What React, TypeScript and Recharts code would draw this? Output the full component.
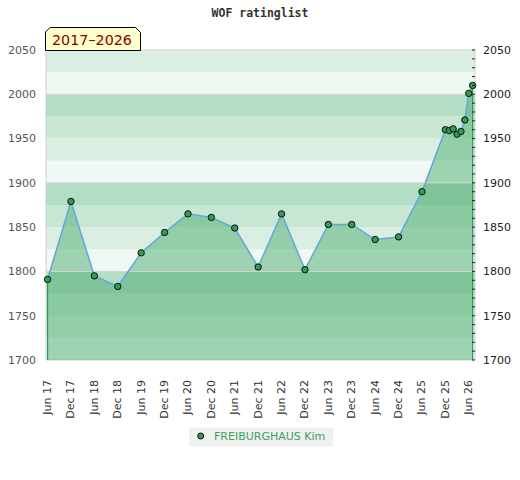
import React from 'react'
import {
  ComposedChart,
  Area,
  Line,
  XAxis,
  YAxis,
  ReferenceArea,
  ReferenceLine,
} from 'recharts'

// rating lists (YYYY-MM) and the player's rating on each
const listDates = [
  '2017-06', '2017-12', '2018-06', '2018-12', '2019-06', '2019-12',
  '2020-06', '2020-12', '2021-06', '2021-12', '2022-06', '2022-12',
  '2023-06', '2023-12', '2024-06', '2024-12', '2025-06', '2025-12',
  '2026-01', '2026-02', '2026-03', '2026-04', '2026-05', '2026-06', '2026-07',
]
const ratings = [
  1791, 1879, 1795, 1783, 1821, 1844,
  1865, 1861, 1849, 1805, 1865, 1802,
  1853, 1853, 1836, 1839, 1890, 1960,
  1959, 1961, 1955, 1958, 1971, 2001, 2010,
]

const tickLabels = [
  'Jun 17', 'Dec 17', 'Jun 18', 'Dec 18', 'Jun 19', 'Dec 19', 'Jun 20',
  'Dec 20', 'Jun 21', 'Dec 21', 'Jun 22', 'Dec 22', 'Jun 23', 'Dec 23',
  'Jun 24', 'Dec 24', 'Jun 25', 'Dec 25', 'Jun 26',
]
const leftTicks = [1700, 1750, 1800, 1850, 1900, 1950, 2000, 2050]
const gridLines = [1800, 1900, 2000]

const playerName = 'FREIBURGHAUS Kim'
const chartTitle = 'WOF ratinglist'
const periodLabel = '2017–2026'

const MONTHS = ['Jan', 'Feb', 'Mar', 'Apr', 'May', 'Jun', 'Jul', 'Aug', 'Sep', 'Oct', 'Nov', 'Dec']

// months since Jun 2017
const monthIndex = (year: number, month: number) => (year - 2017) * 12 + (month - 6)

const data = listDates.map((d, i) => {
  const [y, m] = d.split('-').map(Number)
  return { m: monthIndex(y, m), rating: ratings[i] }
})

const tickMonths = tickLabels.map((l) => {
  const [mon, yy] = l.split(' ')
  return monthIndex(2000 + Number(yy), MONTHS.indexOf(mon) + 1)
})
const labelByMonth: Record<number, string> = {}
tickMonths.forEach((m, i) => (labelByMonth[m] = tickLabels[i]))

const Y_MIN = 1700
const Y_MAX = 2050

// background bands, 25 points each, repeating every 100
const bandColor = (low: number) => {
  const r = ((low % 100) + 100) % 100
  if (r === 0) return '#eff8f2'
  if (r === 25) return '#dbeee2'
  if (r === 50) return '#c8e6d4'
  return '#b3ddc4'
}
const bands: number[] = []
for (let v = Y_MIN; v < Y_MAX; v += 25) bands.push(v)

const rightTicks: number[] = []
for (let v = Y_MIN; v <= Y_MAX; v += 10) rightTicks.push(v)

const font = '"DejaVu Sans", sans-serif'

const XTick = ({ x, y, payload }: any) => (
  <text
    x={0}
    y={0}
    transform={`translate(${x},${y + 12}) rotate(-90)`}
    textAnchor="end"
    dominantBaseline="central"
    fontSize={11}
    fontFamily={font}
    fill="#333"
  >
    {labelByMonth[payload.value] ?? ''}
  </text>
)

const RightTick = ({ x, y, payload }: any) => (
  <g>
    <line x1={x - 3} x2={x} y1={y} y2={y} stroke="#222" strokeWidth={1} />
    {payload.value % 50 === 0 && (
      <text x={x + 8} y={y} dy="0.35em" fontSize={11} fontFamily={font} fill="#222">
        {payload.value}
      </text>
    )}
  </g>
)

export default function App() {
  const first = data[0]
  const last = data[data.length - 1]
  return (
    <div style={{ position: 'absolute', left: 0, top: 0, width: 520, height: 480, background: '#fff' }}>
      <ComposedChart
        width={520}
        height={480}
        data={data}
        margin={{ top: 50, right: 0, left: 0, bottom: 0 }}
      >
        <XAxis
          dataKey="m"
          type="number"
          domain={[-0.4, 109.6]}
          ticks={tickMonths}
          interval={0}
          height={120}
          axisLine={false}
          tickLine={false}
          tick={<XTick />}
        />
        <YAxis
          yAxisId="l"
          type="number"
          domain={[Y_MIN, Y_MAX]}
          ticks={leftTicks}
          interval={0}
          width={46}
          axisLine={false}
          tickLine={false}
          tickMargin={4}
          tick={{ fill: '#555', fontSize: 11, fontFamily: font }}
        />
        <YAxis
          yAxisId="r"
          orientation="right"
          type="number"
          domain={[Y_MIN, Y_MAX]}
          allowDataOverflow
          ticks={rightTicks}
          interval={0}
          width={45}
          axisLine={false}
          tickLine={false}
          tickSize={0}
          tickMargin={0}
          tick={<RightTick />}
        />
        {bands.map((low) => (
          <ReferenceArea
            key={low}
            yAxisId="l"
            y1={low}
            y2={low + 25}
            fill={bandColor(low)}
            fillOpacity={1}
            stroke="none"
          />
        ))}
        {gridLines.map((v) => (
          <ReferenceLine key={v} yAxisId="l" y={v} stroke="#d4d4d4" strokeWidth={1} />
        ))}
        <ReferenceArea
          yAxisId="l"
          y1={Y_MIN}
          y2={Y_MAX}
          fill="none"
          stroke="#d0d0d0"
          strokeWidth={1}
        />
        <Area
          yAxisId="l"
          dataKey="rating"
          type="linear"
          fill="#4bae6e"
          fillOpacity={0.5}
          stroke="none"
          isAnimationActive={false}
        />
        <ReferenceLine
          yAxisId="l"
          segment={[{ x: first.m, y: Y_MIN }, { x: first.m, y: first.rating }]}
          stroke="#2f9a55"
          strokeWidth={1.2}
        />
        <ReferenceLine
          yAxisId="l"
          segment={[{ x: last.m, y: Y_MIN }, { x: last.m, y: last.rating }]}
          stroke="#2f9a55"
          strokeWidth={1.2}
        />
        <Line
          yAxisId="l"
          dataKey="rating"
          type="linear"
          stroke="#62a6dc"
          strokeWidth={1.5}
          dot={{ r: 3.2, fill: '#2f9e52', stroke: '#111', strokeWidth: 1 }}
          isAnimationActive={false}
        />
        {/* invisible twin so the right-hand scale gets drawn */}
        <Line
          yAxisId="r"
          dataKey="rating"
          stroke="none"
          dot={false}
          activeDot={false}
          legendType="none"
          isAnimationActive={false}
        />
      </ComposedChart>
      <svg
        width={520}
        height={480}
        style={{ position: 'absolute', left: 0, top: 0, pointerEvents: 'none' }}
      >
        <text
          x={260}
          y={13}
          dy="0.35em"
          textAnchor="middle"
          fontSize={11.5}
          fontWeight="bold"
          fontFamily='"DejaVu Sans Mono", monospace'
          fill="#333"
        >
          {chartTitle}
        </text>
        <path
          d="M45.5,50.5 V32 L50,27.5 H135.5 L140.5,32.5 V50.5 Z"
          fill="#ffffcc"
          stroke="#000"
          strokeWidth={1}
        />
        <text x={52} y={45} fontSize={14.3} fontFamily={font} fill="#880000">
          {periodLabel}
        </text>
        <rect x={189} y={427.5} width={144} height={19} fill="#f0f0f0" />
        <circle cx={200.7} cy={436} r={3} fill="#2f9e52" stroke="#111" strokeWidth={1} />
        <text x={214} y={436} dy="0.35em" fontSize={11} fontFamily={font} fill="#3aa35c">
          {playerName}
        </text>
      </svg>
    </div>
  )
}
